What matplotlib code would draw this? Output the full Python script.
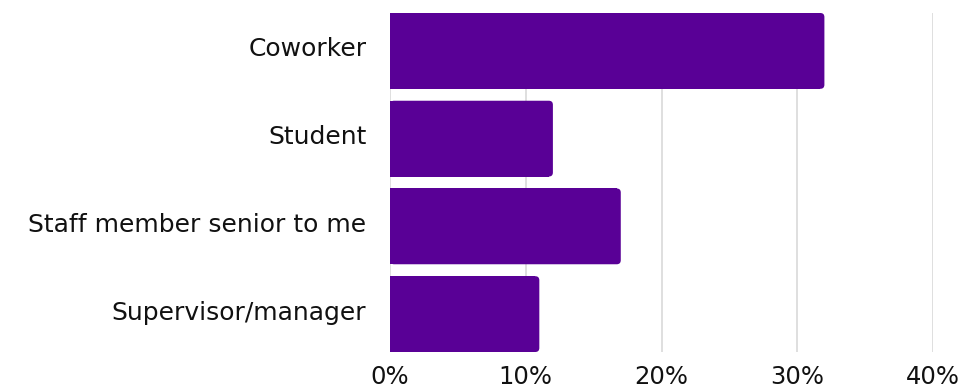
import numpy as np
import matplotlib
matplotlib.use('Agg')
import matplotlib.pyplot as plt
import matplotlib.transforms as mtransforms
from matplotlib.patches import FancyBboxPatch
from matplotlib.ticker import FuncFormatter

categories = ['Coworker', 'Student', 'Staff member senior to me', 'Supervisor/manager']
shares = [32, 12, 17, 11]
xticks = [0, 10, 20, 30, 40]

purple = '#590096'
plt.rcParams['font.family'] = ['DejaVu Sans']

fig = plt.figure(figsize=(9.64, 3.88), dpi=100)
ax = fig.add_axes([390/964, 36/388, 543/964, 339/388])

h = 0.864
ypos = np.arange(len(categories))
rad = 0.3  # corner radius in x units
bars = ax.barh(ypos, [v - rad for v in shares], height=h, color=purple, zorder=2)
# y units per x unit on screen, so the corners come out round
asp = (543/40) / (339/(len(categories) - 1 + h))
for y, v in zip(ypos, shares):
    p = FancyBboxPatch((0, y - h/2), v, h,
                       boxstyle='round,pad=0,rounding_size=%f' % rad,
                       mutation_aspect=asp, fc=purple, ec='none', zorder=2)
    ax.add_patch(p)

ax.set_xlim(0, 40)
ax.set_ylim(len(categories) - 1 + h/2, -h/2)
ax.set_xticks(xticks)
ax.xaxis.set_major_formatter(FuncFormatter(lambda v, _: '%d%%' % v))
ax.set_yticks(ypos)
ax.set_yticklabels(categories)
ax.grid(axis='x', color='#d9d9d9', linewidth=1.2, zorder=0)
for s in ax.spines.values():
    s.set_visible(False)
ax.tick_params(axis='both', length=0, colors='#111111')
ax.tick_params(axis='x', pad=9, labelsize=17.5)
ax.tick_params(axis='y', pad=17, labelsize=18)

# lift category labels a few pixels
shift = mtransforms.ScaledTranslation(0, 4/100, fig.dpi_scale_trans)
for lab in ax.get_yticklabels():
    lab.set_transform(lab.get_transform() + shift)

plt.savefig('out.png', dpi=100)
